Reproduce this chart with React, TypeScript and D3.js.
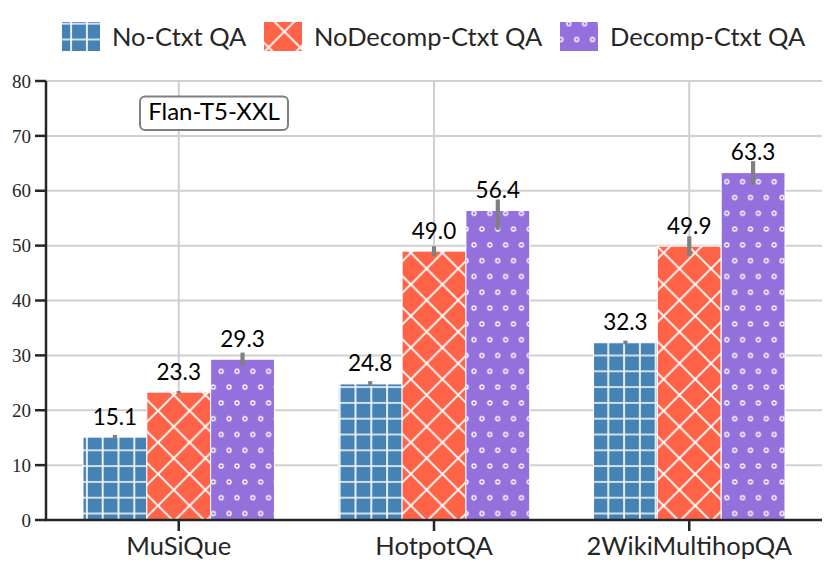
import * as d3 from "d3";
import React from "react";

const categories = ["MuSiQue", "HotpotQA", "2WikiMultihopQA"];
const seriesNames = ["No-Ctxt QA", "NoDecomp-Ctxt QA", "Decomp-Ctxt QA"];
const noCtxt = [15.1, 24.8, 32.3];
const noDecompCtxt = [23.3, 49.0, 49.9];
const decompCtxt = [29.3, 56.4, 63.3];
// error bar extents (low / high)
const noCtxtLo = [14.75, 24.4, 32.0];
const noCtxtHi = [15.5, 25.3, 32.7];
const noDecompLo = [23.1, 48.1, 48.1];
const noDecompHi = [23.5, 49.9, 51.7];
const decompLo = [28.1, 52.9, 61.1];
const decompHi = [30.5, 58.4, 65.4];
const yTicks = [0, 10, 20, 30, 40, 50, 60, 70, 80];

const colors = ["#4682B4", "#FF6347", "#9370DB"];
const patternIds = ["hatch-plus", "hatch-x", "hatch-o"];

const W = 830, H = 572;
const left = 46, right = 822, top = 81, bottom = 520;
const sans = "Lato, 'Open Sans', sans-serif";
const serif = "'Liberation Serif', serif";
const ink = "#262626";

export default function App() {
  const x = d3.scaleLinear().domain([-0.52, 2.52]).range([left, right]);
  const y = d3.scaleLinear().domain([0, 80]).range([bottom, top]);
  const barW = 0.25;

  const series = [
    { name: seriesNames[0], values: noCtxt, lo: noCtxtLo, hi: noCtxtHi },
    { name: seriesNames[1], values: noDecompCtxt, lo: noDecompLo, hi: noDecompHi },
    { name: seriesNames[2], values: decompCtxt, lo: decompLo, hi: decompHi },
  ];

  const g = 15.8; // hatch spacing
  const legendX = [62, 264, 560];

  return (
    <svg width={W} height={H} style={{ position: "absolute", left: 0, top: 0, background: "#fff" }}>
      <defs>
        <pattern id="hatch-plus" patternUnits="userSpaceOnUse" width={g} height={g}>
          <rect width={g} height={g} fill={colors[0]} />
          <path d={`M${g / 2},0V${g}M0,${g / 2}H${g}`} stroke="#fff" strokeWidth={1.7} />
        </pattern>
        <pattern id="hatch-x" patternUnits="userSpaceOnUse" width={2 * g} height={2 * g}>
          <rect width={2 * g} height={2 * g} fill={colors[1]} />
          <path d={`M0,0L${2 * g},${2 * g}M${2 * g},0L0,${2 * g}`} stroke="#fff" strokeWidth={1.9} />
        </pattern>
        <pattern id="hatch-o" patternUnits="userSpaceOnUse" width={g} height={2 * g}>
          <rect width={g} height={2 * g} fill={colors[2]} />
          {[[g / 2, g / 2], [0, 1.5 * g], [g, 1.5 * g]].map(([cx, cy], i) => (
            <circle key={i} cx={cx} cy={cy} r={2} fill={colors[2]} stroke="#fff" strokeWidth={1.3} />
          ))}
        </pattern>
      </defs>

      {/* grid */}
      {yTicks.filter(t => t > 0).map(t => (
        <line key={"gy" + t} x1={left} x2={right} y1={y(t)} y2={y(t)} stroke="#d0d0d0" strokeWidth={2} />
      ))}
      {categories.map((c, i) => (
        <line key={"gx" + c} x1={x(i)} x2={x(i)} y1={top} y2={bottom} stroke="#d0d0d0" strokeWidth={2} />
      ))}

      {/* bars */}
      {series.map((s, si) =>
        s.values.map((v, i) => {
          const x0 = x(i + (si - 1.5) * barW);
          const x1 = x(i + (si - 0.5) * barW);
          return (
            <rect key={s.name + i} x={x0} y={y(v)} width={x1 - x0} height={y(0) - y(v)}
              fill={`url(#${patternIds[si]})`} stroke="#fff" strokeWidth={1} />
          );
        })
      )}

      {/* error bars */}
      {series.map((s, si) =>
        s.values.map((v, i) => {
          const cx = x(i + (si - 1) * barW);
          return (
            <line key={"e" + s.name + i} x1={cx} x2={cx} y1={y(s.lo[i])} y2={y(s.hi[i])}
              stroke="#808080" strokeWidth={4.2} />
          );
        })
      )}

      {/* value labels */}
      {series.map((s, si) =>
        s.values.map((v, i) => (
          <text key={"t" + s.name + i} x={x(i + (si - 1) * barW)} y={y(v) - 12.5}
            textAnchor="middle" fontFamily={sans} fontSize={22.5} fill="#000">
            {v.toFixed(1)}
          </text>
        ))
      )}

      {/* axes */}
      <line x1={left} x2={left} y1={top} y2={bottom} stroke={ink} strokeWidth={2.5} />
      <line x1={left - 1.25} x2={right} y1={bottom} y2={bottom} stroke={ink} strokeWidth={2.5} />
      {yTicks.map(t => (
        <g key={"yt" + t}>
          <line x1={left - 11} x2={left} y1={y(t)} y2={y(t)} stroke={ink} strokeWidth={2.5} />
          <text x={31} y={y(t)} dy="0.35em" textAnchor="end" fontFamily={serif} fontSize={19} fill={ink}>
            {t}
          </text>
        </g>
      ))}
      {categories.map((c, i) => (
        <g key={"xt" + c}>
          <line x1={x(i)} x2={x(i)} y1={bottom} y2={bottom + 11} stroke={ink} strokeWidth={2.5} />
          <text x={x(i)} y={555} textAnchor="middle" fontFamily={sans} fontSize={25.5} fill={ink}>
            {c}
          </text>
        </g>
      ))}

      {/* model annotation */}
      <rect x={140} y={96.5} width={148} height={33.5} rx={5} fill="#fff" stroke="#808080" strokeWidth={2} />
      <text x={214} y={120} textAnchor="middle" fontFamily={sans} fontSize={24} fill="#000">
        Flan-T5-XXL
      </text>

      {/* legend */}
      {seriesNames.map((n, si) => (
        <g key={"lg" + n}>
          <rect x={legendX[si]} y={22} width={38} height={29} fill={`url(#${patternIds[si]})`} />
          <text x={legendX[si] + 50} y={46} fontFamily={sans} fontSize={25.5} fill={ink}>
            {n}
          </text>
        </g>
      ))}
    </svg>
  );
}
